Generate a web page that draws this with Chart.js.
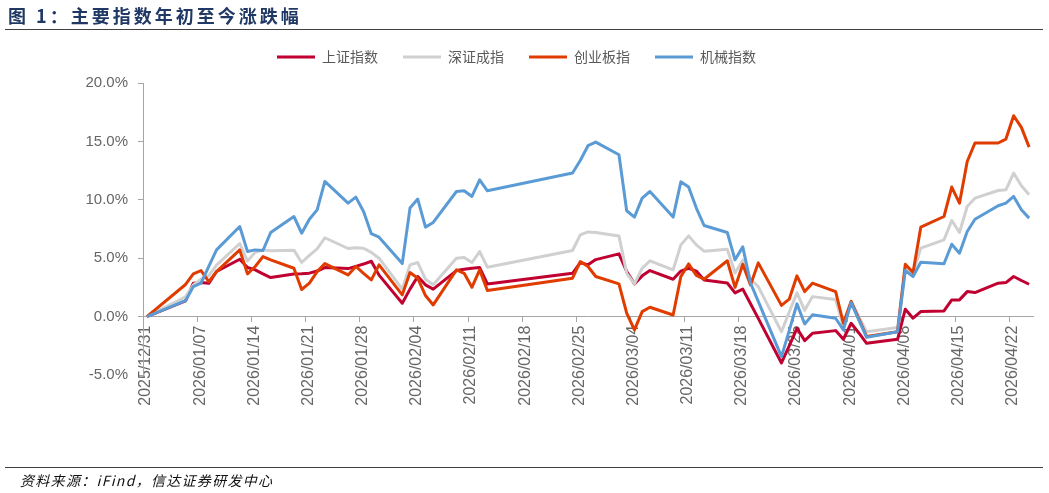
<!DOCTYPE html>
<html>
<head>
<meta charset="utf-8">
<script src="https://cdn.jsdelivr.net/npm/chart.js@4.4.0/dist/chart.umd.min.js"></script>
<style>
html,body{margin:0;padding:0;background:#fff;}
#wrap{position:relative;width:1049px;height:493px;overflow:hidden;background:#fff;}
#title{position:absolute;left:8px;top:2px;font-family:"Noto Sans CJK SC";font-weight:bold;font-size:18px;color:#203864;letter-spacing:3px;white-space:nowrap;}
#rule1{position:absolute;left:5px;top:29px;width:1038px;height:0;border-top:1.5px solid #404040;}
#rule2{position:absolute;left:5px;top:467px;width:1038px;height:0;border-top:1px solid #404040;}
#src{position:absolute;left:20px;top:470px;font-family:"Noto Sans CJK SC";font-style:italic;font-size:14px;color:#111;letter-spacing:1.3px;white-space:nowrap;}
#c{position:absolute;left:0;top:0;}
</style>
</head>
<body>
<div id="wrap">
  <canvas id="c" width="1049" height="493"></canvas>
  <div id="title">图 1：主要指数年初至今涨跌幅</div>
  <div id="rule1"></div>
  <div id="rule2"></div>
  <div id="src">资料来源：iFind，信达证券研发中心</div>
</div>
<script>
// ---- data ----
const tradeDates = [
  '2025/12/31',
  '2026/01/05','2026/01/06','2026/01/07','2026/01/08','2026/01/09',
  '2026/01/12','2026/01/13','2026/01/14','2026/01/15','2026/01/16',
  '2026/01/19','2026/01/20','2026/01/21','2026/01/22','2026/01/23',
  '2026/01/26','2026/01/27','2026/01/28','2026/01/29','2026/01/30',
  '2026/02/02','2026/02/03','2026/02/04','2026/02/05','2026/02/06',
  '2026/02/09','2026/02/10','2026/02/11','2026/02/12','2026/02/13',
  '2026/02/24','2026/02/25','2026/02/26','2026/02/27',
  '2026/03/02','2026/03/03','2026/03/04','2026/03/05','2026/03/06',
  '2026/03/09','2026/03/10','2026/03/11','2026/03/12','2026/03/13',
  '2026/03/16','2026/03/17','2026/03/18','2026/03/19','2026/03/20',
  '2026/03/23','2026/03/24','2026/03/25','2026/03/26','2026/03/27',
  '2026/03/30','2026/03/31','2026/04/01','2026/04/02','2026/04/03',
  '2026/04/07','2026/04/08','2026/04/09','2026/04/10',
  '2026/04/13','2026/04/14','2026/04/15','2026/04/16','2026/04/17',
  '2026/04/20','2026/04/21','2026/04/22','2026/04/23','2026/04/24'
];

const tickLabels = [
  '2025/12/31','2026/01/07','2026/01/14','2026/01/21','2026/01/28',
  '2026/02/04','2026/02/11','2026/02/18','2026/02/25','2026/03/04',
  '2026/03/11','2026/03/18','2026/03/25','2026/04/01','2026/04/08',
  '2026/04/15','2026/04/22'
];

const seriesNames = ['上证指数','深证成指','创业板指','机械指数'];

const shIndex = [
  0,
  1.35,2.86,2.91,2.85,3.86,
  4.91,4.2,4.0,3.66,3.34,
  3.65,3.66,3.72,3.9,4.2,
  4.11,4.3,4.5,4.74,3.55,
  1.14,2.35,3.43,2.72,2.35,
  3.94,4.06,4.14,4.2,2.8,
  3.71,4.63,4.43,4.88,
  5.37,3.86,2.8,3.49,3.94,
  3.2,3.9,4.14,3.9,3.14,
  2.88,2.03,2.35,1.1,-0.15,
  -3.97,-2.5,-1.0,-2.06,-1.43,
  -1.2,-1.94,-0.57,-1.4,-2.29,
  -1.94,0.63,-0.14,0.43,
  0.49,1.43,1.43,2.14,2.06,
  2.86,2.91,3.43,3.09,2.77
];

const szIndex = [
  0,
  1.7,2.7,3.2,3.5,4.4,
  6.26,4.75,5.5,5.71,5.63,
  5.69,4.63,5.25,5.8,6.75,
  5.83,5.9,5.85,5.5,5.0,
  2.35,4.43,4.63,3.2,2.72,
  5.0,5.06,4.63,5.57,4.23,
  5.66,7.0,7.25,7.2,
  6.91,3.71,2.8,4.14,4.77,
  4.0,6.14,6.91,6.14,5.6,
  5.77,3.74,4.83,3.2,2.57,
  -1.3,0.4,2.03,0.54,1.71,
  1.46,-0.86,1.29,0.0,-1.29,
  -0.94,4.2,3.71,5.86,
  6.57,8.23,7.2,9.43,10.14,
  10.8,10.86,12.29,11.2,10.43
];

const chinext = [
  0,
  2.75,3.66,3.94,3.0,3.85,
  5.71,3.66,4.29,5.14,4.85,
  4.14,2.32,2.86,3.85,4.54,
  3.57,4.29,3.7,3.14,4.43,
  1.86,3.77,3.29,1.8,1.0,
  4.0,3.71,2.51,4.0,2.23,
  3.29,4.71,4.29,3.43,
  2.8,0.29,-1.14,0.43,0.8,
  0.14,3.43,4.51,3.53,3.2,
  4.78,2.5,4.47,2.7,4.6,
  0.96,1.49,3.49,2.14,2.86,
  2.14,-0.57,1.3,-0.2,-1.71,
  -1.29,4.49,3.77,7.66,
  8.57,11.09,9.71,13.28,14.86,
  14.86,15.2,17.2,16.2,14.51
];

const machinery = [
  0,
  1.36,2.57,2.86,4.3,5.71,
  7.71,5.57,5.71,5.66,7.2,
  8.57,7.14,8.34,9.14,11.57,
  9.71,10.23,9.0,7.1,6.8,
  4.54,9.29,10.06,7.66,8.06,
  10.71,10.77,10.29,11.71,10.77,
  12.29,13.37,14.63,14.94,
  13.86,9.06,8.52,10.14,10.71,
  8.52,11.54,11.09,9.29,7.8,
  7.2,4.86,5.97,2.88,1.3,
  -3.43,-1.2,1.09,-0.63,0.15,
  -0.14,-1.14,1.2,-0.3,-1.77,
  -1.29,3.94,3.43,4.66,
  4.52,6.2,5.43,7.29,8.34,
  9.49,9.72,10.29,9.14,8.43
];

// ---- helpers ----
const base = Date.UTC(2025, 11, 31);
function dayOf(s) {
  const [y, m, d] = s.split('/').map(Number);
  return Math.round((Date.UTC(y, m - 1, d) - base) / 86400000);
}
// each trading day is drawn centred in its day slot (date axis)
const xs = tradeDates.map(s => dayOf(s) + 0.5);
const tickDays = tickLabels.map(dayOf);

const colors = ['#C00030', '#D0D0D0', '#E03C00', '#5B9BD5'];
const allSeries = [shIndex, szIndex, chinext, machinery];

const datasets = allSeries.map((arr, i) => ({
  label: seriesNames[i],
  data: arr.map((v, k) => ({ x: xs[k], y: v })),
  borderColor: colors[i],
  backgroundColor: colors[i],
  borderWidth: 3,
  pointRadius: 0,
  pointHoverRadius: 0,
  tension: 0,
  fill: false,
  borderJoinStyle: 'round',
  order: 4 - i
}));

const legendFix = {
  id: 'legendFix',
  beforeLayout(chart) {
    const lg = chart.legend;
    if (lg && !lg.__patched) {
      const f = lg.fit;
      lg.fit = function () { f.call(this); this.height = 58; };
      lg.__patched = true;
    }
  }
};

const axisColor = '#A6A6A6';

new Chart(document.getElementById('c'), {
  type: 'line',
  data: { datasets },
  plugins: [legendFix],
  options: {
    responsive: false,
    animation: false,
    events: [],
    layout: { padding: { left: 0, right: 16, top: 25, bottom: 118 } },
    plugins: {
      tooltip: { enabled: false },
      title: { display: false },
      legend: {
        position: 'top',
        align: 'center',
        labels: {
          boxWidth: 38,
          boxHeight: 3,
          padding: 25,
          color: '#595959',
          font: { family: '"Noto Sans CJK SC"', size: 14 },
          sort: (a, b) => a.datasetIndex - b.datasetIndex,
          generateLabels(chart) {
            const items = Chart.defaults.plugins.legend.labels.generateLabels(chart);
            items.forEach(it => { it.lineWidth = 0; it.fillStyle = it.strokeStyle; });
            return items;
          }
        }
      }
    },
    scales: {
      x: {
        type: 'linear',
        position: { y: 0 },
        min: 0,
        max: 115,
        afterBuildTicks(scale) { scale.ticks = tickDays.map(v => ({ value: v })); },
        ticks: {
          autoSkip: false,
          minRotation: 90,
          maxRotation: 90,
          padding: 4,
          labelOffset: 3,
          color: '#666666',
          font: { family: '"Liberation Sans", Arial, sans-serif', size: 16 },
          callback(v) { const i = tickDays.indexOf(v); return i >= 0 ? tickLabels[i] : ''; }
        },
        grid: { drawOnChartArea: false, drawTicks: true, tickLength: 5, color: axisColor },
        border: { color: axisColor, width: 1 }
      },
      y: {
        min: -5,
        max: 20,
        afterFit(scale) { scale.width = 143; },
        ticks: {
          stepSize: 5,
          padding: 10,
          color: '#666666',
          font: { family: '"Liberation Sans", Arial, sans-serif', size: 15 },
          callback: v => v.toFixed(1) + '%'
        },
        grid: { drawOnChartArea: false, drawTicks: true, tickLength: 5, color: axisColor },
        border: { color: axisColor, width: 1 }
      }
    }
  }
});
</script>
</body>
</html>
